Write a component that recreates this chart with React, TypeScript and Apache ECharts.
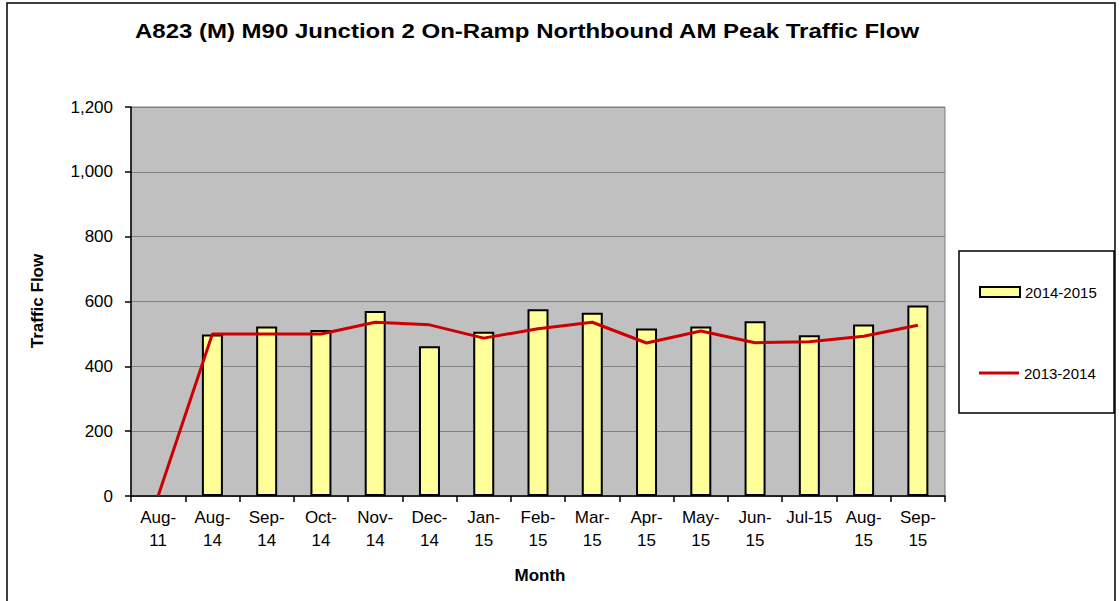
import React, { useEffect, useRef } from "react";
import * as echarts from "echarts";

const categories = ["Aug-\n11", "Aug-\n14", "Sep-\n14", "Oct-\n14", "Nov-\n14", "Dec-\n14", "Jan-\n15", "Feb-\n15", "Mar-\n15", "Apr-\n15", "May-\n15", "Jun-\n15", "Jul-15", "Aug-\n15", "Sep-\n15"];
const flow2014_2015 = [null, 498, 523, 512, 571, 462, 507, 576, 565, 517, 523, 539, 496, 529, 588];
const flow2013_2014 = [0, 500, 500, 500, 536, 528, 487, 516, 536, 472, 509, 473, 476, 493, 527];
const yTicks = { min: 0, max: 1200, interval: 200 };
const titleText = "A823 (M) M90 Junction 2 On-Ramp Northbound AM Peak Traffic Flow";
const yAxisTitle = "Traffic Flow";
const xAxisTitle = "Month";
const seriesNames = ["2014-2015", "2013-2014"];

const FONT = "'Liberation Sans', Arial, sans-serif";

export default function App() {
  const ref = useRef<HTMLDivElement>(null);
  useEffect(() => {
    if (!ref.current) return;
    const chart = echarts.init(ref.current, null, { renderer: "svg" });
    chart.setOption({
      animation: false,
      backgroundColor: "#ffffff",
      textStyle: { fontFamily: FONT },
      grid: {
        left: 131,
        right: 175,
        top: 107,
        bottom: 105,
        show: true,
        backgroundColor: "#c0c0c0",
        borderColor: "#808080",
        borderWidth: 1,
      },
      legend: [
        {
          data: [{ name: seriesNames[0], icon: "rect" }],
          left: 979,
          top: 284,
          padding: 0,
          itemWidth: 40,
          itemHeight: 10,
          itemGap: 4,
          textStyle: { fontSize: 15, color: "#000", lineHeight: 16, fontFamily: FONT },
        },
        {
          data: [{ name: seriesNames[1], icon: "rect" }],
          left: 979,
          top: 365,
          padding: 0,
          itemWidth: 40,
          itemHeight: 3,
          itemGap: 4,
          textStyle: { fontSize: 15, color: "#000", lineHeight: 16, fontFamily: FONT },
        },
      ],
      xAxis: {
        type: "category",
        data: categories,
        boundaryGap: true,
        axisLine: { lineStyle: { color: "#000", width: 1.5 } },
        axisTick: { show: true, length: 6, lineStyle: { color: "#000", width: 1.5 } },
        axisLabel: { color: "#000", fontSize: 17, lineHeight: 23, margin: 10, interval: 0, fontFamily: FONT },
        splitLine: { show: false },
      },
      yAxis: {
        type: "value",
        min: yTicks.min,
        max: yTicks.max,
        interval: yTicks.interval,
        axisLine: { show: true, lineStyle: { color: "#000", width: 1.5 } },
        axisTick: { show: true, length: 6, lineStyle: { color: "#000", width: 1.5 } },
        axisLabel: {
          color: "#000",
          fontSize: 17,
          margin: 18,
          fontFamily: FONT,
          formatter: (v: number) => v.toLocaleString("en-US"),
        },
        splitLine: { show: true, lineStyle: { color: "#808080", width: 1 } },
      },
      series: [
        {
          name: seriesNames[0],
          type: "bar",
          data: flow2014_2015,
          barWidth: 21,
          itemStyle: { color: "#ffff99", borderColor: "#000", borderWidth: 2 },
          z: 2,
        },
        {
          name: seriesNames[1],
          type: "line",
          data: flow2013_2014,
          symbol: "none",
          showSymbol: false,
          smooth: false,
          lineStyle: { color: "#cc0000", width: 3 },
          itemStyle: { color: "#cc0000" },
          z: 3,
        },
      ],
      graphic: [
        {
          type: "rect",
          shape: { x: 7, y: 3, width: 1108, height: 620 },
          style: { fill: "none", stroke: "#000", lineWidth: 1.5 },
          silent: true,
          z: -1,
        },
        {
          type: "rect",
          shape: { x: 959, y: 251, width: 155, height: 162 },
          style: { fill: "#fff", stroke: "#000", lineWidth: 1.5 },
          silent: true,
          z: -1,
        },
        {
          type: "text",
          x: 527,
          y: 31,
          scaleX: 1.2,
          style: {
            text: titleText,
            fontFamily: FONT,
            fontSize: 20,
            fontWeight: "bold",
            fill: "#000",
            align: "center",
            verticalAlign: "middle",
          },
        },
        {
          type: "text",
          x: 37,
          y: 301,
          rotation: Math.PI / 2,
          style: {
            text: yAxisTitle,
            fontFamily: FONT,
            fontSize: 17,
            fontWeight: "bold",
            fill: "#000",
            align: "center",
            verticalAlign: "middle",
          },
        },
        {
          type: "text",
          x: 540,
          y: 575,
          style: {
            text: xAxisTitle,
            fontFamily: FONT,
            fontSize: 17,
            fontWeight: "bold",
            fill: "#000",
            align: "center",
            verticalAlign: "middle",
          },
        },
      ],
    });
    return () => chart.dispose();
  }, []);
  return (
    <div
      ref={ref}
      style={{ position: "absolute", left: 0, top: 0, width: 1120, height: 601 }}
    />
  );
}
